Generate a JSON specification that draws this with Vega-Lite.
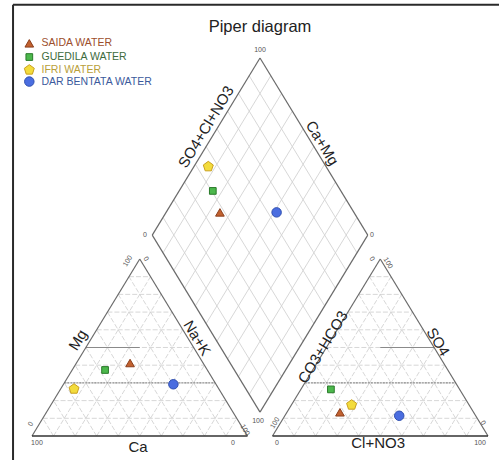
{
  "$schema": "https://vega.github.io/schema/vega-lite/v6.json",
  "width": 499,
  "height": 460,
  "autosize": {"type": "none"},
  "padding": 0,
  "background": "white",
  "config": {"view": {"stroke": null}, "font": "Liberation Sans"},
  "datasets": {
    "grid": [
      {"x":5,"y":8.66,"x2":95,"y2":8.66},{"x":10,"y":17.32,"x2":90,"y2":17.32},{"x":15,"y":25.98,"x2":85,"y2":25.98},{"x":20,"y":34.64,"x2":80,"y2":34.64},{"x":25,"y":43.3,"x2":75,"y2":43.3},{"x":30,"y":51.96,"x2":70,"y2":51.96},{"x":35,"y":60.62,"x2":65,"y2":60.62},{"x":40,"y":69.28,"x2":60,"y2":69.28},{"x":45,"y":77.94,"x2":55,"y2":77.94},
      {"x":10,"y":0,"x2":55,"y2":77.94},{"x":20,"y":0,"x2":60,"y2":69.28},{"x":30,"y":0,"x2":65,"y2":60.62},{"x":40,"y":0,"x2":70,"y2":51.96},{"x":50,"y":0,"x2":75,"y2":43.3},{"x":60,"y":0,"x2":80,"y2":34.64},{"x":70,"y":0,"x2":85,"y2":25.98},{"x":80,"y":0,"x2":90,"y2":17.32},{"x":90,"y":0,"x2":95,"y2":8.66},
      {"x":10,"y":0,"x2":5,"y2":8.66},{"x":20,"y":0,"x2":10,"y2":17.32},{"x":30,"y":0,"x2":15,"y2":25.98},{"x":40,"y":0,"x2":20,"y2":34.64},{"x":50,"y":0,"x2":25,"y2":43.3},{"x":60,"y":0,"x2":30,"y2":51.96},{"x":70,"y":0,"x2":35,"y2":60.62},{"x":80,"y":0,"x2":40,"y2":69.28},{"x":90,"y":0,"x2":45,"y2":77.94},
      {"x":116.6,"y":8.66,"x2":206.6,"y2":8.66},{"x":121.6,"y":17.32,"x2":201.6,"y2":17.32},{"x":126.6,"y":25.98,"x2":196.6,"y2":25.98},{"x":131.6,"y":34.64,"x2":191.6,"y2":34.64},{"x":136.6,"y":43.3,"x2":186.6,"y2":43.3},{"x":141.6,"y":51.96,"x2":181.6,"y2":51.96},{"x":146.6,"y":60.62,"x2":176.6,"y2":60.62},{"x":151.6,"y":69.28,"x2":171.6,"y2":69.28},{"x":156.6,"y":77.94,"x2":166.6,"y2":77.94},
      {"x":121.6,"y":0,"x2":166.6,"y2":77.94},{"x":131.6,"y":0,"x2":171.6,"y2":69.28},{"x":141.6,"y":0,"x2":176.6,"y2":60.62},{"x":151.6,"y":0,"x2":181.6,"y2":51.96},{"x":161.6,"y":0,"x2":186.6,"y2":43.3},{"x":171.6,"y":0,"x2":191.6,"y2":34.64},{"x":181.6,"y":0,"x2":196.6,"y2":25.98},{"x":191.6,"y":0,"x2":201.6,"y2":17.32},{"x":201.6,"y":0,"x2":206.6,"y2":8.66},
      {"x":121.6,"y":0,"x2":116.6,"y2":8.66},{"x":131.6,"y":0,"x2":121.6,"y2":17.32},{"x":141.6,"y":0,"x2":126.6,"y2":25.98},{"x":151.6,"y":0,"x2":131.6,"y2":34.64},{"x":161.6,"y":0,"x2":136.6,"y2":43.3},{"x":171.6,"y":0,"x2":141.6,"y2":51.96},{"x":181.6,"y":0,"x2":146.6,"y2":60.62},{"x":191.6,"y":0,"x2":151.6,"y2":69.28},{"x":201.6,"y":0,"x2":156.6,"y2":77.94}
    ],
    "dgrid": [
      {"x":110.8,"y":20.36,"x2":60.8,"y2":106.96},{"x":115.8,"y":29.02,"x2":65.8,"y2":115.62},{"x":120.8,"y":37.68,"x2":70.8,"y2":124.28},{"x":125.8,"y":46.34,"x2":75.8,"y2":132.94},{"x":130.8,"y":55.0,"x2":80.8,"y2":141.6},{"x":135.8,"y":63.66,"x2":85.8,"y2":150.26},{"x":140.8,"y":72.32,"x2":90.8,"y2":158.92},{"x":145.8,"y":80.98,"x2":95.8,"y2":167.58},{"x":150.8,"y":89.64,"x2":100.8,"y2":176.24},
      {"x":100.8,"y":20.36,"x2":150.8,"y2":106.96},{"x":95.8,"y":29.02,"x2":145.8,"y2":115.62},{"x":90.8,"y":37.68,"x2":140.8,"y2":124.28},{"x":85.8,"y":46.34,"x2":135.8,"y2":132.94},{"x":80.8,"y":55.0,"x2":130.8,"y2":141.6},{"x":75.8,"y":63.66,"x2":125.8,"y2":150.26},{"x":70.8,"y":72.32,"x2":120.8,"y2":158.92},{"x":65.8,"y":80.98,"x2":115.8,"y2":167.58},{"x":60.8,"y":89.64,"x2":110.8,"y2":176.24}
    ],
    "edges": [
      {"x":0,"y":0,"x2":50,"y2":86.6},{"x":100,"y":0,"x2":50,"y2":86.6},
      {"x":111.6,"y":0,"x2":161.6,"y2":86.6},{"x":211.6,"y":0,"x2":161.6,"y2":86.6},
      {"x":105.8,"y":11.7,"x2":55.8,"y2":98.3},{"x":105.8,"y":11.7,"x2":155.8,"y2":98.3},{"x":55.8,"y":98.3,"x2":105.8,"y2":184.9},{"x":155.8,"y":98.3,"x2":105.8,"y2":184.9}
    ],
    "bases": [
      {"x":0,"y":0,"x2":100,"y2":0},{"x":111.6,"y":0,"x2":211.6,"y2":0}
    ],
    "classSolid": [
      {"x":25,"y":43.3,"x2":50,"y2":43.3},{"x":161.6,"y":43.3,"x2":186.6,"y2":43.3}
    ],
    "classDash": [
      {"x":15,"y":25.98,"x2":85,"y2":25.98},{"x":126.6,"y":25.98,"x2":196.6,"y2":25.98}
    ],
    "frame": [
      {"x":-8.8,"y":211.0,"x2":216.7,"y2":211.0},{"x":-8.8,"y":211.0,"x2":-8.8,"y2":-11.74}
    ],
    "points": [
      {"series":"SAIDA WATER","x":45.5,"y":35.7},
      {"series":"GUEDILA WATER","x":33.9,"y":32.3},
      {"series":"IFRI WATER","x":19.5,"y":23.0},
      {"series":"DAR BENTATA WATER","x":65.6,"y":25.3},
      {"series":"GUEDILA WATER","x":138.7,"y":22.8},
      {"series":"IFRI WATER","x":148.3,"y":15.2},
      {"series":"SAIDA WATER","x":142.9,"y":11.6},
      {"series":"DAR BENTATA WATER","x":170.4,"y":9.9},
      {"series":"IFRI WATER","x":81.8,"y":131.8},
      {"series":"GUEDILA WATER","x":83.9,"y":119.9},
      {"series":"SAIDA WATER","x":87.2,"y":109.4},
      {"series":"DAR BENTATA WATER","x":113.5,"y":109.4}
    ],
    "legend": [
      {"series":"SAIDA WATER","x":-1.25,"y":192.1,"tx":4.4},
      {"series":"GUEDILA WATER","x":-1.25,"y":185.4,"tx":4.4},
      {"series":"IFRI WATER","x":-1.25,"y":179.1,"tx":4.4},
      {"series":"DAR BENTATA WATER","x":-1.25,"y":173.4,"tx":4.4}
    ],
    "title": [{"text":"Piper diagram","x":105.8,"y":200.1}],
    "axisUp": [
      {"text":"SO4+Cl+NO3","x":80.8,"y":151.2},
      {"text":"Mg","x":21.3,"y":47.0},
      {"text":"CO3+HCO3","x":135.0,"y":43.5}
    ],
    "axisDown": [
      {"text":"Ca+Mg","x":134.6,"y":143.3},
      {"text":"Na+K","x":76.6,"y":47.9},
      {"text":"SO4","x":188.4,"y":46.0}
    ],
    "axisH": [
      {"text":"Ca","x":49.2,"y":-5.4},
      {"text":"Cl+NO3","x":160.6,"y":-3.4}
    ],
    "tickH": [
      {"text":"100","x":105.8,"y":188.8},
      {"text":"0","x":52.4,"y":98.3},
      {"text":"0","x":157.8,"y":98.3},
      {"text":"100","x":104.9,"y":7.3},
      {"text":"100","x":2.3,"y":-3.4},
      {"text":"0","x":93.3,"y":-3.4},
      {"text":"0","x":113.7,"y":-3.4},
      {"text":"100","x":207.9,"y":-3.4}
    ],
    "tickUp": [
      {"text":"100","x":44.5,"y":85.6},
      {"text":"0","x":-0.5,"y":5.9},
      {"text":"100","x":112.8,"y":6.4}
    ],
    "tickDown": [
      {"text":"0","x":52.9,"y":86.6},
      {"text":"100","x":98.8,"y":2.9},
      {"text":"0","x":157.8,"y":86.6},
      {"text":"100","x":165.2,"y":84.6},
      {"text":"0","x":209.3,"y":6.4}
    ]
  },
  "encoding": {
    "x": {"field":"x","type":"quantitative","scale":{"domain":[-14.85,216.7],"nice":false,"zero":false},"axis":null},
    "y": {"field":"y","type":"quantitative","scale":{"domain":[-11.74,213.3],"nice":false,"zero":false},"axis":null}
  },
  "layer": [
    {"data":{"name":"grid"},"mark":{"type":"rule","color":"#cdcdcd","strokeWidth":0.8,"strokeDash":[5,2]},
     "encoding":{"x2":{"field":"x2"},"y2":{"field":"y2"}}},
    {"data":{"name":"dgrid"},"mark":{"type":"rule","color":"#d2d2d2","strokeWidth":0.9},
     "encoding":{"x2":{"field":"x2"},"y2":{"field":"y2"}}},
    {"data":{"name":"classDash"},"mark":{"type":"rule","color":"#6a6a6a","strokeWidth":0.9,"strokeDash":[2,1]},
     "encoding":{"x2":{"field":"x2"},"y2":{"field":"y2"}}},
    {"data":{"name":"classSolid"},"mark":{"type":"rule","color":"#8a8a8a","strokeWidth":1.2},
     "encoding":{"x2":{"field":"x2"},"y2":{"field":"y2"}}},
    {"data":{"name":"edges"},"mark":{"type":"rule","color":"#6a6a6a","strokeWidth":1.2},
     "encoding":{"x2":{"field":"x2"},"y2":{"field":"y2"}}},
    {"data":{"name":"bases"},"mark":{"type":"rule","color":"#333333","strokeWidth":1.3},
     "encoding":{"x2":{"field":"x2"},"y2":{"field":"y2"}}},
    {"data":{"name":"frame"},"mark":{"type":"rule","color":"#2a2a2a","strokeWidth":2},
     "encoding":{"x2":{"field":"x2"},"y2":{"field":"y2"}}},
    {"data":{"name":"points"},"mark":{"type":"point","filled":true,"opacity":1,"strokeWidth":1},
     "encoding":{
       "fill":{"field":"series","type":"nominal","scale":{"domain":["SAIDA WATER","GUEDILA WATER","IFRI WATER","DAR BENTATA WATER"],"range":["#c2612f","#4cb84c","#f3dc3c","#4a6de0"]},"legend":null},
       "stroke":{"field":"series","type":"nominal","scale":{"domain":["SAIDA WATER","GUEDILA WATER","IFRI WATER","DAR BENTATA WATER"],"range":["#8a3e1c","#2a7a2a","#c9a020","#2f4fb0"]},"legend":null},
       "shape":{"field":"series","type":"nominal","scale":{"domain":["SAIDA WATER","GUEDILA WATER","IFRI WATER","DAR BENTATA WATER"],"range":["triangle-up","square","M0,-1L0.951,-0.309L0.588,0.809L-0.588,0.809L-0.951,-0.309Z","circle"]},"legend":null},
       "size":{"field":"series","type":"nominal","scale":{"type":"ordinal","domain":["SAIDA WATER","GUEDILA WATER","IFRI WATER","DAR BENTATA WATER"],"range":[75,45,110,90]},"legend":null}
     }},
    {"data":{"name":"legend"},"mark":{"type":"point","filled":true,"opacity":1,"strokeWidth":1},
     "encoding":{
       "fill":{"field":"series","type":"nominal","scale":{"domain":["SAIDA WATER","GUEDILA WATER","IFRI WATER","DAR BENTATA WATER"],"range":["#c2612f","#4cb84c","#f3dc3c","#4a6de0"]},"legend":null},
       "stroke":{"field":"series","type":"nominal","scale":{"domain":["SAIDA WATER","GUEDILA WATER","IFRI WATER","DAR BENTATA WATER"],"range":["#8a3e1c","#2a7a2a","#c9a020","#2f4fb0"]},"legend":null},
       "shape":{"field":"series","type":"nominal","scale":{"domain":["SAIDA WATER","GUEDILA WATER","IFRI WATER","DAR BENTATA WATER"],"range":["triangle-up","square","M0,-1L0.951,-0.309L0.588,0.809L-0.588,0.809L-0.951,-0.309Z","circle"]},"legend":null},
       "size":{"field":"series","type":"nominal","scale":{"type":"ordinal","domain":["SAIDA WATER","GUEDILA WATER","IFRI WATER","DAR BENTATA WATER"],"range":[75,45,110,90]},"legend":null}
     }},
    {"data":{"name":"legend"},"mark":{"type":"text","align":"left","baseline":"middle","fontSize":10.5},
     "encoding":{
       "x":{"field":"tx","type":"quantitative"},
       "text":{"field":"series"},
       "color":{"field":"series","type":"nominal","scale":{"domain":["SAIDA WATER","GUEDILA WATER","IFRI WATER","DAR BENTATA WATER"],"range":["#9c4e2c","#3d6b3d","#b9a03a","#3b5a9c"]},"legend":null}
     }},
    {"data":{"name":"title"},"mark":{"type":"text","align":"center","baseline":"middle","fontSize":16.5,"color":"#222222"},
     "encoding":{"text":{"field":"text"}}},
    {"data":{"name":"axisUp"},"mark":{"type":"text","align":"center","baseline":"middle","fontSize":15,"angle":301.3,"color":"#222222"},
     "encoding":{"text":{"field":"text"}}},
    {"data":{"name":"axisDown"},"mark":{"type":"text","align":"center","baseline":"middle","fontSize":15,"angle":58.7,"color":"#222222"},
     "encoding":{"text":{"field":"text"}}},
    {"data":{"name":"axisH"},"mark":{"type":"text","align":"center","baseline":"middle","fontSize":15,"color":"#222222"},
     "encoding":{"text":{"field":"text"}}},
    {"data":{"name":"tickH"},"mark":{"type":"text","align":"center","baseline":"middle","fontSize":7,"color":"#555555"},
     "encoding":{"text":{"field":"text"}}},
    {"data":{"name":"tickUp"},"mark":{"type":"text","align":"center","baseline":"middle","fontSize":7,"angle":301.3,"color":"#555555"},
     "encoding":{"text":{"field":"text"}}},
    {"data":{"name":"tickDown"},"mark":{"type":"text","align":"center","baseline":"middle","fontSize":7,"angle":58.7,"color":"#555555"},
     "encoding":{"text":{"field":"text"}}}
  ]
}
